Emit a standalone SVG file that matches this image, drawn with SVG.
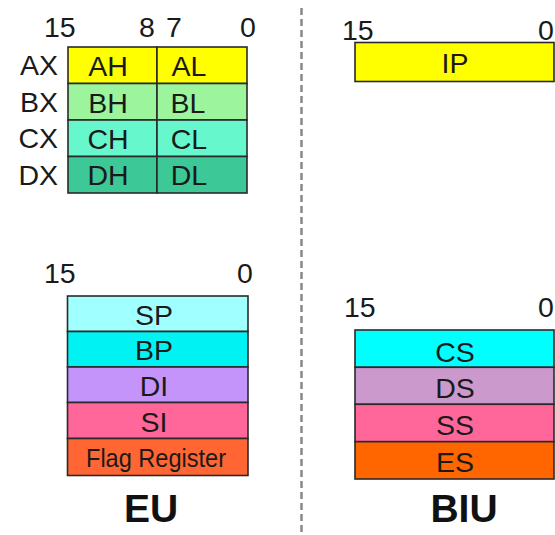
<svg xmlns="http://www.w3.org/2000/svg" width="555" height="535" viewBox="0 0 555 535">
<style>
text{font-family:"Liberation Sans",Arial,sans-serif;fill:#1a1a1a}
.n{font-size:28.5px}
.c{text-anchor:middle}
.e{text-anchor:end}
.t{font-size:39px;font-weight:bold;text-anchor:middle;fill:#111}
.r{stroke:#2a2a2a;stroke-width:1.6}
.div{stroke:#888;stroke-width:2.5;stroke-dasharray:7 4;fill:none}
</style>
<rect width="555" height="535" fill="#fff"/>
<g id="separator">
<line class="div" x1="301.5" y1="8" x2="301.5" y2="535"/>
</g>
<g id="gp-bits">
<text class="n" x="44" y="37">15</text>
<text class="n" x="139" y="37">8</text>
<text class="n" x="166" y="37">7</text>
<text class="n" x="240" y="37">0</text>
</g>
<g id="AX">
<text class="n e" x="58" y="75">AX</text>
<rect class="r" x="68" y="47" width="89" height="36.5" fill="#ffff00"/>
<rect class="r" x="157" y="47" width="90" height="36.5" fill="#ffff00"/>
<text class="n c" x="108" y="76">AH</text>
<text class="n c" x="189" y="76">AL</text>
</g>
<g id="BX">
<text class="n e" x="58" y="112">BX</text>
<rect class="r" x="68" y="83.5" width="89" height="36.5" fill="#9cf59c"/>
<rect class="r" x="157" y="83.5" width="90" height="36.5" fill="#9cf59c"/>
<text class="n c" x="108" y="113">BH</text>
<text class="n c" x="188" y="113">BL</text>
</g>
<g id="CX">
<text class="n e" x="58" y="148">CX</text>
<rect class="r" x="68" y="120" width="89" height="36.5" fill="#66f8cc"/>
<rect class="r" x="157" y="120" width="90" height="36.5" fill="#66f8cc"/>
<text class="n c" x="108" y="149">CH</text>
<text class="n c" x="189" y="149">CL</text>
</g>
<g id="DX">
<text class="n e" x="58" y="185">DX</text>
<rect class="r" x="68" y="156.5" width="89" height="36.5" fill="#3cc897"/>
<rect class="r" x="157" y="156.5" width="90" height="36.5" fill="#3cc897"/>
<text class="n c" x="108" y="185">DH</text>
<text class="n c" x="189" y="185">DL</text>
</g>
<g id="ptr-bits">
<text class="n" x="44" y="283">15</text>
<text class="n" x="237" y="283">0</text>
</g>
<g id="SP">
<rect class="r" x="67.5" y="296" width="180.5" height="35.5" fill="#a0ffff"/>
<text class="n c" x="154" y="325">SP</text>
</g>
<g id="BP">
<rect class="r" x="67.5" y="331.5" width="180.5" height="35.5" fill="#00f2f2"/>
<text class="n c" x="154" y="360">BP</text>
</g>
<g id="DI">
<rect class="r" x="67.5" y="367" width="180.5" height="35.5" fill="#c594fa"/>
<text class="n c" x="154" y="396">DI</text>
</g>
<g id="SI">
<rect class="r" x="67.5" y="402.5" width="180.5" height="36" fill="#ff6699"/>
<text class="n c" x="154" y="432">SI</text>
</g>
<g id="FLAGS">
<rect class="r" x="67.5" y="438.5" width="180.5" height="37" fill="#ff6633"/>
<text class="c" x="156" y="467" font-size="26" textLength="140" lengthAdjust="spacingAndGlyphs">Flag Register</text>
</g>
<g id="EU">
<text class="t" x="151" y="522">EU</text>
</g>
<g id="ip-bits">
<text class="n" x="342" y="40">15</text>
<text class="n" x="538" y="40">0</text>
</g>
<g id="IP">
<rect class="r" x="355" y="42.5" width="199" height="39" fill="#ffff00"/>
<text class="n c" x="455" y="73">IP</text>
</g>
<g id="seg-bits">
<text class="n" x="344" y="317">15</text>
<text class="n" x="538" y="317">0</text>
</g>
<g id="CS">
<rect class="r" x="355" y="330" width="199" height="37.3" fill="#00ffff"/>
<text class="n c" x="455" y="362">CS</text>
</g>
<g id="DS">
<rect class="r" x="355" y="367.3" width="199" height="37" fill="#cc99cc"/>
<text class="n c" x="455" y="398">DS</text>
</g>
<g id="SS">
<rect class="r" x="355" y="404.3" width="199" height="37.4" fill="#ff6699"/>
<text class="n c" x="455" y="435">SS</text>
</g>
<g id="ES">
<rect class="r" x="355" y="441.7" width="199" height="37.3" fill="#ff6600"/>
<text class="n c" x="455" y="472">ES</text>
</g>
<g id="BIU">
<text class="t" x="464" y="522">BIU</text>
</g>
</svg>
